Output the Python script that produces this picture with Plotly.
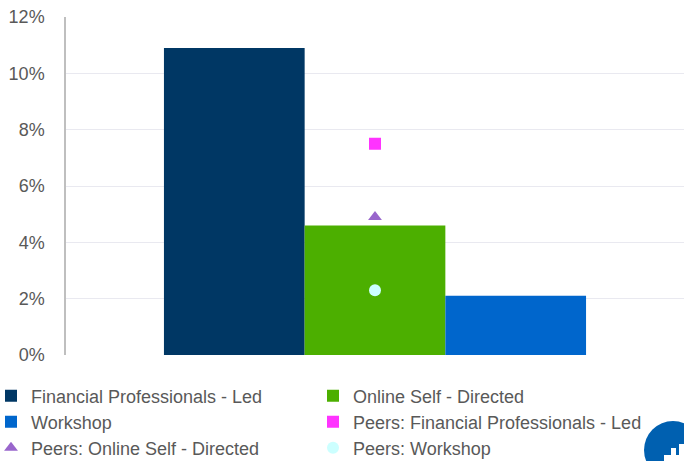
import plotly.graph_objects as go

# Share of participants by advice channel, with peer benchmarks
category = ["Channel"]
bar_names = ["Financial Professionals - Led", "Online Self - Directed", "Workshop"]
bar_values = [0.109, 0.046, 0.021]
bar_colors = ["#003764", "#4caf00", "#0066cc"]

peer_names = ["Peers: Financial Professionals - Led", "Peers: Online Self - Directed", "Peers: Workshop"]
peer_values = [0.075, 0.049, 0.023]
peer_colors = ["#ff33ff", "#9966cc", "#ccffff"]
peer_symbols = ["square", "triangle-up", "circle"]

y_ticks = [0, 0.02, 0.04, 0.06, 0.08, 0.10, 0.12]

W, H = 684, 461
L, R, T, B = 66, 0, 17, 106
PW, PH = W - L - R, H - T - B


def px_x(px):
    return (px - L) / PW


def px_y(py):
    return (H - B - py) / PH


# legend slots: two columns, three rows, filled row by row
legend_keys = ["legend", "legend2", "legend3", "legend4", "legend5", "legend6"]
col_px = [-9, 313]
row_px = [396, 422, 448]

fig = go.Figure()

for i, (n, v, c) in enumerate(zip(bar_names, bar_values, bar_colors)):
    fig.add_trace(go.Bar(
        x=category, y=[v], name=n, marker=dict(color=c, line=dict(width=0)),
        legend=legend_keys[i],
    ))

for i, (n, v, c, s) in enumerate(zip(peer_names, peer_values, peer_colors, peer_symbols)):
    fig.add_trace(go.Scatter(
        x=category, y=[v], name=n, mode="markers",
        marker=dict(color=c, symbol=s, size=12, line=dict(width=0)),
        legend=legend_keys[3 + i],
    ))

font_main = dict(family="Liberation Sans, Arial, sans-serif", size=18, color="#595959")

legend_layout = {}
for k in range(6):
    row, col = divmod(k, 2)
    legend_layout[legend_keys[k]] = dict(
        x=px_x(col_px[col]), xanchor="left",
        y=px_y(row_px[row]), yanchor="middle",
        orientation="h", bgcolor="rgba(0,0,0,0)", borderwidth=0,
        font=font_main, itemwidth=30,
    )

# corner badge
shapes = [
    dict(type="circle", xref="paper", yref="paper",
         x0=px_x(644), x1=px_x(702), y0=px_y(479), y1=px_y(421),
         fillcolor="#0060b0", line=dict(width=0), layer="above"),
    dict(type="rect", xref="paper", yref="paper",
         x0=px_x(664), x1=px_x(684), y0=px_y(461), y1=px_y(455),
         fillcolor="white", line=dict(width=0), layer="above"),
    dict(type="rect", xref="paper", yref="paper",
         x0=px_x(671), x1=px_x(676), y0=px_y(461), y1=px_y(448),
         fillcolor="white", line=dict(width=0), layer="above"),
    dict(type="rect", xref="paper", yref="paper",
         x0=px_x(679), x1=px_x(684), y0=px_y(461), y1=px_y(444),
         fillcolor="white", line=dict(width=0), layer="above"),
]

fig.update_layout(
    width=W, height=H,
    margin=dict(l=L, r=R, t=T, b=B, autoexpand=False),
    paper_bgcolor="white", plot_bgcolor="white",
    barmode="group", bargap=0.317, bargroupgap=0,
    font=font_main,
    showlegend=True,
    shapes=shapes,
    **legend_layout,
)

fig.update_xaxes(showticklabels=False, showgrid=False, zeroline=False,
                 showline=False, ticks="", range=[-0.5, 0.5])
fig.update_yaxes(range=[0, 0.12], tickvals=y_ticks, tickformat=".0%",
                 showgrid=True, gridcolor="#e9e9f0", gridwidth=1,
                 zeroline=False, showline=True, linecolor="#bfbfbf", linewidth=1.5,
                 ticks="", ticklabelstandoff=16, tickfont=font_main)

fig.write_html("out.html")
